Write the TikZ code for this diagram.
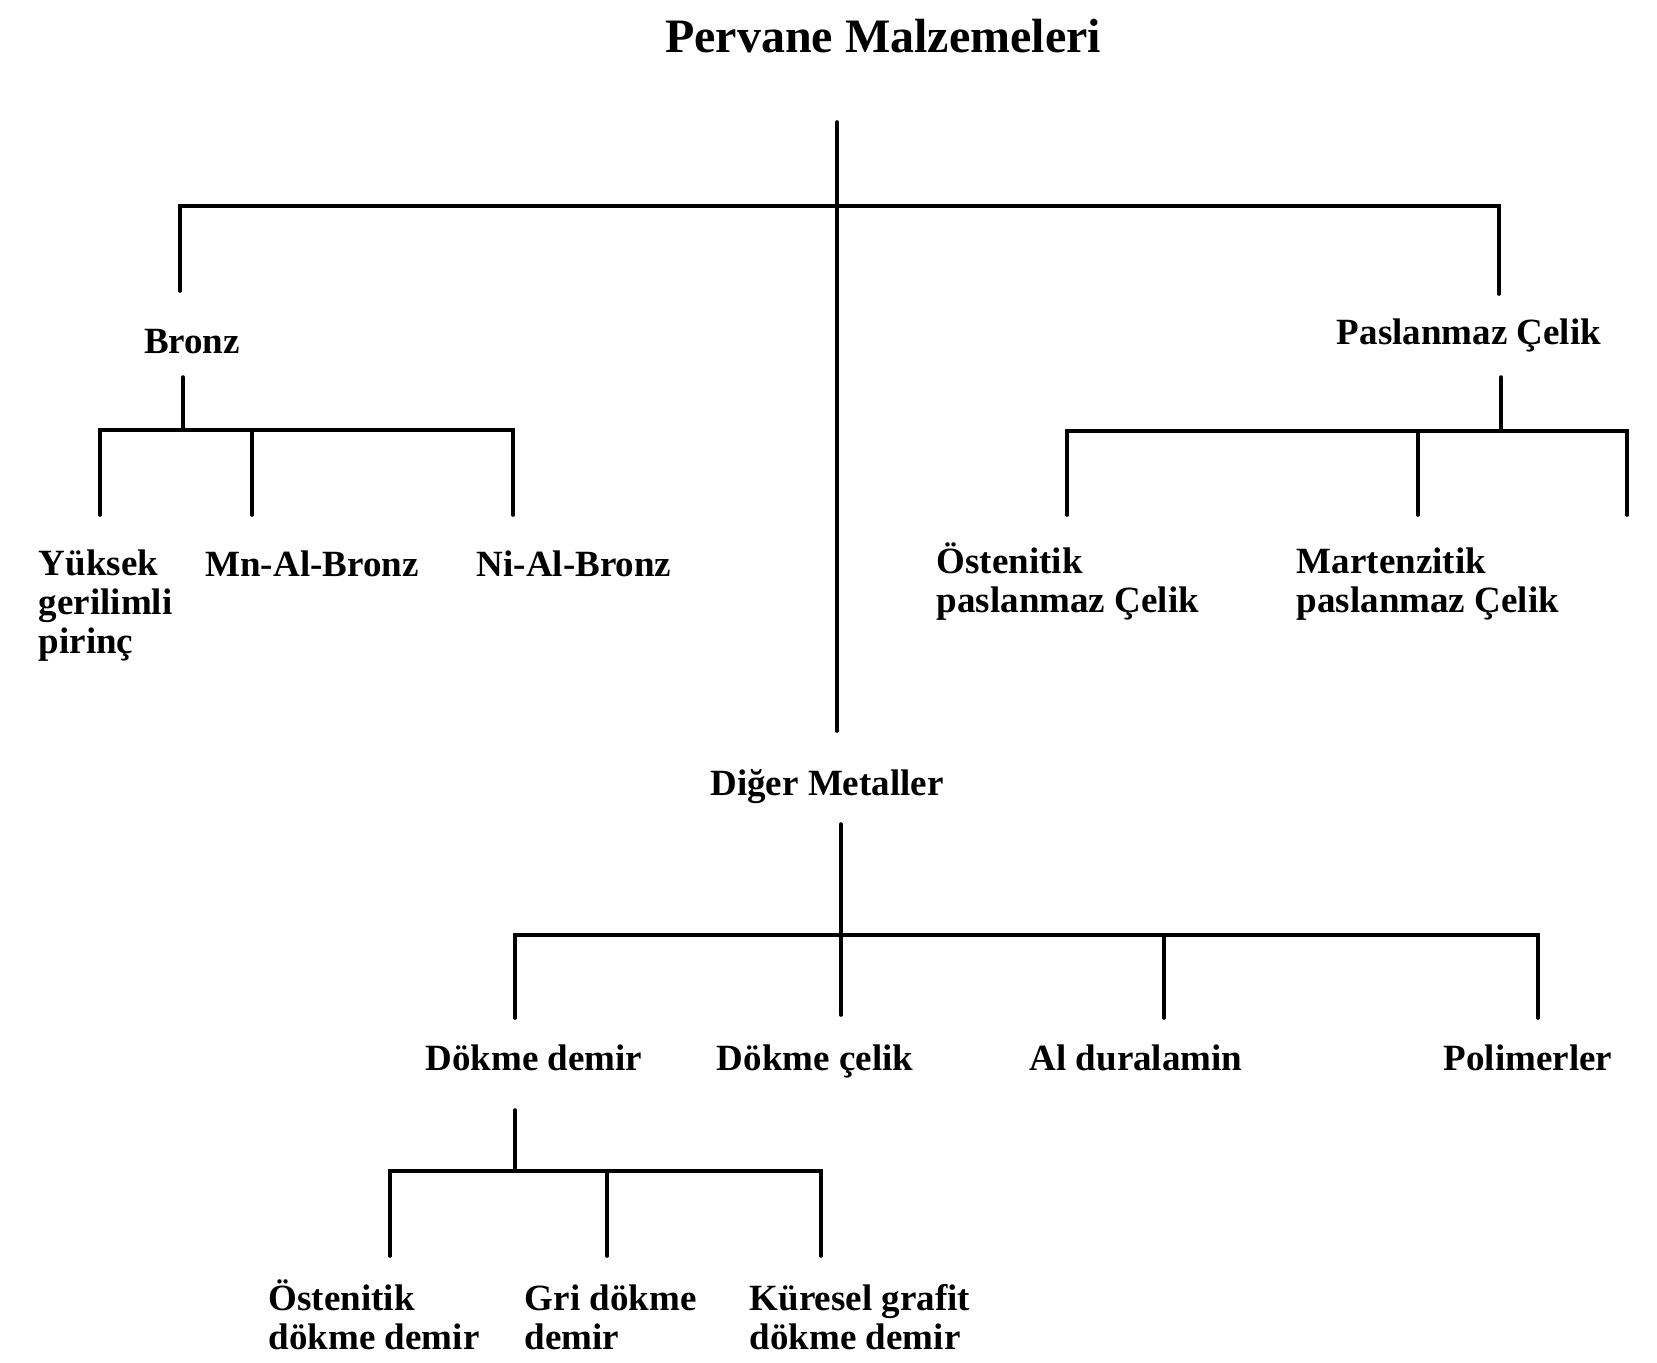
\documentclass[tikz,border=0pt]{standalone}
\usepackage{fontspec}
\setmainfont{Liberation Serif}
\begin{document}
\begin{tikzpicture}[x=0.5pt,y=-0.5pt,
  line width=1.8pt, line cap=round,
  lbl/.style={inner sep=0pt, font=\bfseries\fontsize{18.5}{19.5}\selectfont, anchor=base},
  lbll/.style={lbl, anchor=base west, align=left},
  ttl/.style={inner sep=0pt, font=\bfseries\fontsize{24}{28}\selectfont, anchor=base}]
\useasboundingbox (0,0) rectangle (1657,1362);
% labels (multi-line labels are placed by the baseline of their last line)
\node[ttl] (title) at (883,52) {Pervane Malzemeleri};
\node[lbl] (bronz) at (192,353) {Bronz};
\node[lbl] (pas) at (1469,344) {Paslanmaz Çelik};
\node[lbll] (yuk) at (37,653) {Yüksek\\gerilimli\\pirinç};
\node[lbl] (mn) at (312,576) {Mn-Al-Bronz};
\node[lbl] (ni) at (574,576) {Ni-Al-Bronz};
\node[lbll] (ost) at (935,612) {Östenitik\\paslanmaz Çelik};
\node[lbll] (mar) at (1295,612) {Martenzitik\\paslanmaz Çelik};
\node[lbl] (diger) at (827,795) {Diğer Metaller};
\node[lbl] (dd) at (534,1070) {Dökme demir};
\node[lbl] (dc) at (815,1070) {Dökme çelik};
\node[lbl] (al) at (1136,1070) {Al duralamin};
\node[lbl] (pol) at (1528,1070) {Polimerler};
\node[lbll] (odd) at (267,1349) {Östenitik\\dökme demir};
\node[lbll] (gri) at (523,1349) {Gri dökme\\demir};
\node[lbll] (kur) at (748,1349) {Küresel grafit\\dökme demir};
% junction coordinates
\coordinate (mtop) at (837,122);
\coordinate (mj) at (837,206);
\coordinate (mbot) at (837,731);
\coordinate (jl) at (180,206);
\coordinate (jr) at (1499,206);
\coordinate (bl) at (180,291);
\coordinate (br) at (1499,294);
% bronz
\coordinate (bt) at (183,377);
\coordinate (bj) at (183,430);
\coordinate (b1) at (100,430);
\coordinate (b2) at (252,430);
\coordinate (b3) at (513,430);
\coordinate (b1e) at (100,515);
\coordinate (b2e) at (252,515);
\coordinate (b3e) at (513,515);
% paslanmaz
\coordinate (pt) at (1501,377);
\coordinate (pj) at (1501,431);
\coordinate (p1) at (1067,431);
\coordinate (p2) at (1418,431);
\coordinate (p3) at (1627,431);
\coordinate (p1e) at (1067,515);
\coordinate (p2e) at (1418,515);
\coordinate (p3e) at (1627,515);
% diger
\coordinate (dt) at (841,824);
\coordinate (dj) at (841,935);
\coordinate (de) at (841,1015);
\coordinate (d1) at (515,935);
\coordinate (d3) at (1164,935);
\coordinate (d4) at (1538,935);
\coordinate (d1e) at (515,1018);
\coordinate (d3e) at (1164,1018);
\coordinate (d4e) at (1538,1018);
% dokme demir
\coordinate (kt) at (515,1110);
\coordinate (kj) at (515,1171);
\coordinate (k1) at (390,1171);
\coordinate (k2) at (607,1171);
\coordinate (k3) at (821,1171);
\coordinate (k1e) at (390,1256);
\coordinate (k2e) at (607,1256);
\coordinate (k3e) at (821,1256);
% connectors
\draw (mtop) -- (mbot);
\draw (bl) -- (jl) -- (mj) -- (jr) -- (br);
\draw (bt) -- (bj);
\draw (b1e) -- (b1) -- (b2) -- (b3) -- (b3e);
\draw (b2) -- (b2e);
\draw (pt) -- (pj);
\draw (p1e) -- (p1) -- (p2) -- (p3) -- (p3e);
\draw (p2) -- (p2e);
\draw (dt) -- (de);
\draw (d1e) -- (d1) -- (dj) -- (d3) -- (d4) -- (d4e);
\draw (d3) -- (d3e);
\draw (kt) -- (kj);
\draw (k1e) -- (k1) -- (k2) -- (k3) -- (k3e);
\draw (k2) -- (k2e);
\end{tikzpicture}
\end{document}
